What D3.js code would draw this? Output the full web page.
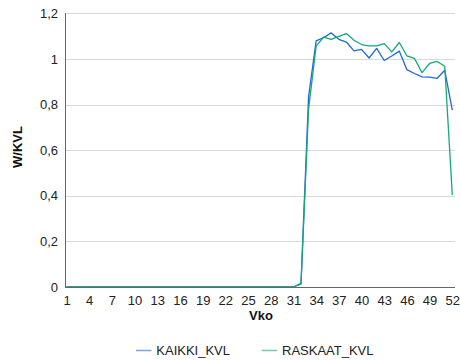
<!DOCTYPE html>
<html><head><meta charset="utf-8">
<script src="https://cdn.jsdelivr.net/npm/d3@7"></script>
<style>body{margin:0;background:#fff}svg{display:block;font-family:"Liberation Sans",Arial,sans-serif}</style>
</head><body><svg id="c" width="460" height="360"></svg>
<script>
const weeks = [1,2,3,4,5,6,7,8,9,10,11,12,13,14,15,16,17,18,19,20,21,22,23,24,25,26,27,28,29,30,31,32,33,34,35,36,37,38,39,40,41,42,43,44,45,46,47,48,49,50,51,52];
const kaikki = [0,0,0,0,0,0,0,0,0,0,0,0,0,0,0,0,0,0,0,0,0,0,0,0,0,0,0,0,0,0,0,0.016,0.834,1.079,1.094,1.114,1.086,1.074,1.035,1.042,1.004,1.046,0.993,1.013,1.034,0.953,0.936,0.921,0.920,0.915,0.950,0.775];
const raskaat = [0,0,0,0,0,0,0,0,0,0,0,0,0,0,0,0,0,0,0,0,0,0,0,0,0,0,0,0,0,0,0,0.012,0.78,1.056,1.096,1.086,1.099,1.111,1.082,1.063,1.057,1.057,1.067,1.031,1.072,1.013,1.002,0.940,0.980,0.989,0.968,0.403];
const tickWeeks = [1,4,7,10,13,16,19,22,25,28,31,34,37,40,43,46,49,52];
const yTicks = [0,0.2,0.4,0.6,0.8,1,1.2];
const seriesNames = ["KAIKKI_KVL","RASKAAT_KVL"];
const colors = ["#1f68d6","#14a87a"];

const svg = d3.select("#c");
const x = d3.scalePoint().domain(weeks).range([66.5,452.3]);
const y = d3.scaleLinear().domain([0,1.2]).range([287,13.3]);
const fmt = v => String(v).replace(".", ",");

// gridlines
svg.append("g").selectAll("line").data(yTicks.filter(d=>d>0)).join("line")
  .attr("x1",65).attr("x2",455).attr("y1",d=>Math.round(y(d))+0.5).attr("y2",d=>Math.round(y(d))+0.5)
  .attr("stroke","#d9d9d9").attr("stroke-width",1);

// y axis labels
const ya = svg.append("g").attr("transform","translate(65,0)")
  .call(d3.axisLeft(y).tickValues(yTicks).tickFormat(fmt).tickSize(0).tickPadding(7));
ya.select(".domain").remove();
ya.selectAll("text").attr("font-size",13).attr("fill","#222").attr("font-family","Liberation Sans, Arial, sans-serif");

// x axis labels
const xa = svg.append("g").attr("transform","translate(0,287)")
  .call(d3.axisBottom(x).tickValues(tickWeeks).tickSize(0).tickPadding(9));
xa.select(".domain").remove();
xa.selectAll("text").attr("font-size",13).attr("fill","#222").attr("font-family","Liberation Sans, Arial, sans-serif");

// lines
const line = d3.line().x((d,i)=>x(weeks[i])).y(d=>y(d));
[kaikki, raskaat].forEach((s,k)=>{
  svg.append("path").datum(s).attr("d",line).attr("fill","none")
    .attr("stroke",colors[k]).attr("stroke-width",1.3).attr("stroke-linejoin","round");
});

// axis lines
svg.append("line").attr("x1",65.5).attr("x2",65.5).attr("y1",13).attr("y2",287.5).attr("stroke","#666").attr("stroke-width",1);
svg.append("line").attr("x1",65).attr("x2",455).attr("y1",287.5).attr("y2",287.5).attr("stroke","#666").attr("stroke-width",1.2);

// titles
svg.append("text").attr("transform","translate(22,147) rotate(-90)").attr("text-anchor","middle")
  .attr("font-size",13).attr("font-weight","bold").attr("fill","#111").text("W/KVL");
svg.append("text").attr("x",261).attr("y",320).attr("text-anchor","middle")
  .attr("font-size",13).attr("font-weight","bold").attr("fill","#111").text("Vko");

// legend
const legX = [136,261.7];
seriesNames.forEach((n,k)=>{
  svg.append("line").attr("x1",legX[k]).attr("x2",legX[k]+15.5).attr("y1",350.5).attr("y2",350.5)
    .attr("stroke",colors[k]).attr("stroke-width",1.5).attr("stroke-opacity",0.6);
  svg.append("text").attr("x",legX[k]+20.3).attr("y",355).attr("font-size",13).attr("fill","#222").text(n);
});
</script></body></html>
